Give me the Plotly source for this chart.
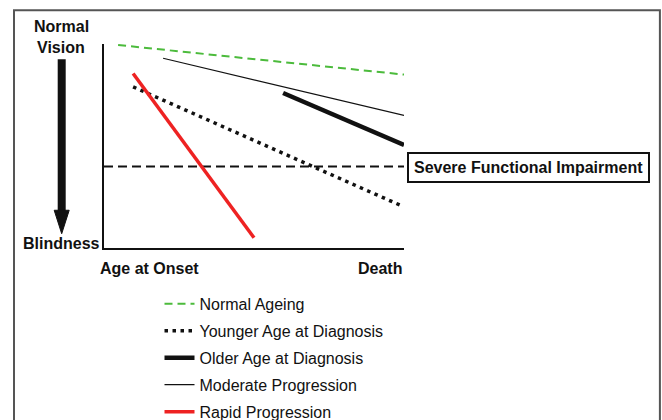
import plotly.graph_objects as go

# ---- data (x: 0 = age at onset, 100 = death; y: 0 = blindness, 100 = normal vision)
normal_x = [4.7, 100]
normal_y = [99.5, 85]
younger_x = [9.7, 98.7]
younger_y = [79, 21]
older_x = [59.7, 100]
older_y = [76, 50.5]
moderate_x = [19.7, 100]
moderate_y = [93, 65]
rapid_x = [9.7, 50]
rapid_y = [85.5, 5]
threshold_x = [0, 100]
threshold_y = [40, 40]

series_names = ["Normal Ageing", "Younger Age at Diagnosis", "Older Age at Diagnosis",
                "Moderate Progression", "Rapid Progression"]

FONT = "Liberation Sans, Arial, sans-serif"

fig = go.Figure()

fig.add_trace(go.Scatter(x=threshold_x, y=threshold_y, mode="lines", showlegend=False,
                         line=dict(color="#111111", width=2, dash="9px,5px"), cliponaxis=False))
fig.add_trace(go.Scatter(x=normal_x, y=normal_y, mode="lines", name=series_names[0], legendgroup="a",
                         line=dict(color="#4cbb3c", width=2, dash="8px,5px"), cliponaxis=False))
fig.add_trace(go.Scatter(x=younger_x, y=younger_y, mode="lines", name=series_names[1], legendgroup="b",
                         line=dict(color="#111111", width=3.5, dash="3.5px,4.5px"), cliponaxis=False))
fig.add_trace(go.Scatter(x=older_x, y=older_y, mode="lines", name=series_names[2], legendgroup="c",
                         line=dict(color="#111111", width=4.5), cliponaxis=False))
fig.add_trace(go.Scatter(x=moderate_x, y=moderate_y, mode="lines", name=series_names[3], legendgroup="d",
                         line=dict(color="#111111", width=1.2), cliponaxis=False))
fig.add_trace(go.Scatter(x=rapid_x, y=rapid_y, mode="lines", name=series_names[4], legendgroup="e",
                         line=dict(color="#ee2222", width=3.5), cliponaxis=False))

bold = dict(family=FONT, size=16, color="#111111", weight="bold")
P = dict(xref="paper", yref="paper", showarrow=False, font=bold, yanchor="middle")
annotations = [
    dict(x=-0.142, y=1.085, text="Normal", xanchor="center", **P),
    dict(x=-0.142, y=0.985, text="Vision", xanchor="center", **P),
    dict(x=-0.142, y=0.02, text="Blindness", xanchor="center", **P),
    dict(x=0.153, y=-0.10, text="Age at Onset", xanchor="center", **P),
    dict(x=1.0, y=-0.10, text="Death", xanchor="right", **P),
    dict(x=1.415, y=0.395, text="Severe Functional Impairment", xanchor="center",
         bordercolor="#111111", borderwidth=2, borderpad=5, bgcolor="white", **P),
]

shapes = [
    # outer frame (open at the bottom edge of the figure)
    dict(type="path", xref="paper", yref="paper",
         path="M -0.30 -0.90 L -0.30 1.165 L 1.853 1.165 L 1.853 -0.90",
         line=dict(color="#555555", width=2), layer="below"),
    # arrow shaft
    dict(type="line", xref="paper", yref="paper", x0=-0.141, x1=-0.141, y0=0.925, y1=0.18,
         line=dict(color="#111111", width=8)),
    # arrow head
    dict(type="path", xref="paper", yref="paper",
         path="M -0.166 0.185 L -0.116 0.185 L -0.141 0.07 Z",
         fillcolor="#111111", line=dict(color="#111111", width=1)),
]

fig.update_layout(
    width=662, height=441,
    margin=dict(l=104, r=258, t=44, b=187),
    paper_bgcolor="white", plot_bgcolor="white",
    font=dict(family=FONT, size=16, color="#111111"),
    xaxis=dict(range=[0, 100], showgrid=False, zeroline=False, showticklabels=False, ticks="",
               showline=True, linecolor="#111111", linewidth=2, fixedrange=True),
    yaxis=dict(range=[0, 100], showgrid=False, zeroline=False, showticklabels=False, ticks="",
               showline=True, linecolor="#111111", linewidth=2, fixedrange=True),
    legend=dict(x=0.185, y=-0.19, xanchor="left", yanchor="top", tracegroupgap=3.2,
                font=dict(family=FONT, size=16, color="#111111"), bgcolor="rgba(0,0,0,0)",
                itemwidth=30),
    annotations=annotations,
    shapes=shapes,
    showlegend=True,
)

fig.write_html("out.html", config={"displayModeBar": False},
               post_script="document.body.style.margin='0';document.body.style.overflow='hidden';")
